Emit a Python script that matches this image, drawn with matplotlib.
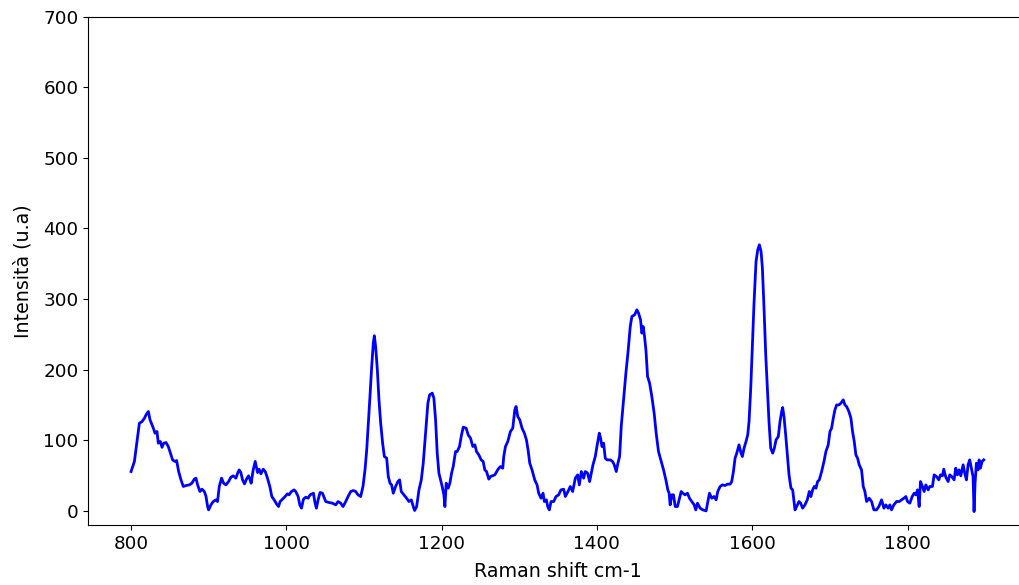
import matplotlib
matplotlib.use("Agg")
import matplotlib.pyplot as plt
import numpy as np

# Raman shift (cm-1) and intensity (u.a.)
shift = [
    800.0, 804.3, 807.3, 810.7, 814.1, 817.1, 819.3, 822.3, 824.4, 827.9,
    830.9, 833.4, 835.1, 837.7, 839.9, 842.0, 845.0, 848.0, 851.4, 853.6,
    856.6, 858.7, 861.3, 864.3, 867.3, 870.7, 875.0, 878.4, 881.4, 883.6,
    885.7, 888.7, 891.3, 894.3, 896.4, 898.6, 899.9, 902.9, 905.9, 909.3,
    911.4, 913.6, 916.6, 919.2, 922.2, 925.6, 928.6, 931.6, 935.0, 937.6,
    939.3, 941.4, 943.6, 946.1, 948.7, 951.3, 953.0, 954.7, 957.3, 959.9,
    962.9, 965.0, 967.2, 970.2, 972.8, 975.7, 978.7, 981.3, 984.3, 987.3,
    989.9, 992.0, 995.0, 998.4, 1001.4, 1003.6, 1006.6, 1010.0, 1012.1, 1015.2,
    1017.3, 1019.5, 1022.0, 1025.0, 1028.0, 1030.6, 1034.9, 1036.6, 1038.7, 1040.9,
    1043.4, 1046.5, 1050.7, 1055.0, 1059.3, 1063.6, 1066.6, 1070.0, 1073.0, 1076.5,
    1079.5, 1082.9, 1086.3, 1089.3, 1092.3, 1095.7, 1098.7, 1101.3, 1103.5, 1105.6,
    1107.7, 1109.9, 1112.0, 1113.3, 1115.0, 1117.2, 1119.3, 1121.5, 1124.0, 1126.2,
    1129.2, 1131.3, 1133.5, 1135.6, 1137.7, 1140.7, 1143.7, 1145.9, 1148.0, 1151.5,
    1154.9, 1157.9, 1160.9, 1163.5, 1165.2, 1167.8, 1170.8, 1173.8, 1176.3, 1179.3,
    1182.3, 1184.5, 1187.9, 1190.0, 1192.2, 1194.3, 1196.5, 1198.6, 1200.7, 1202.9,
    1204.2, 1205.9, 1208.5, 1210.6, 1212.8, 1214.9, 1217.9, 1220.0, 1223.0, 1225.2,
    1227.8, 1231.6, 1234.2, 1237.2, 1240.2, 1242.8, 1244.9, 1247.9, 1250.9, 1253.5,
    1255.6, 1257.8, 1260.8, 1262.9, 1265.1, 1268.5, 1272.7, 1275.7, 1278.7, 1280.0,
    1282.2, 1285.2, 1288.6, 1291.6, 1294.2, 1295.9, 1298.0, 1300.6, 1303.6, 1306.6,
    1309.2, 1311.3, 1313.5, 1316.4, 1319.9, 1322.9, 1325.0, 1328.0, 1330.6, 1332.3,
    1334.9, 1336.6, 1338.7, 1340.9, 1344.3, 1347.3, 1350.7, 1353.7, 1357.2, 1359.3,
    1362.7, 1365.7, 1368.7, 1372.2, 1375.2, 1377.3, 1379.9, 1382.9, 1385.0, 1388.0,
    1390.6, 1392.3, 1394.9, 1397.9, 1400.0, 1403.0, 1404.7, 1406.5, 1408.6, 1410.7,
    1412.9, 1417.2, 1420.2, 1422.3, 1424.9, 1427.0, 1429.2, 1431.3, 1434.3, 1437.3,
    1439.9, 1442.9, 1445.0, 1448.5, 1451.5, 1453.6, 1456.2, 1457.9, 1459.6, 1461.3,
    1463.1, 1465.2, 1467.8, 1470.7, 1473.7, 1476.3, 1479.3, 1482.3, 1485.8, 1488.8,
    1491.3, 1493.0, 1494.3, 1496.5, 1498.6, 1500.8, 1503.7, 1506.3, 1508.5, 1510.6,
    1513.6, 1516.6, 1519.2, 1522.2, 1525.2, 1527.3, 1529.5, 1532.9, 1536.3, 1540.6,
    1542.8, 1544.9, 1547.9, 1550.9, 1553.5, 1555.6, 1558.6, 1561.6, 1565.1, 1568.1,
    1571.5, 1573.6, 1575.8, 1577.9, 1580.1, 1583.0, 1585.6, 1587.3, 1589.5, 1592.0,
    1594.2, 1595.9, 1598.1, 1600.2, 1602.4, 1604.9, 1607.1, 1609.2, 1611.4, 1613.1,
    1615.2, 1617.4, 1619.5, 1621.6, 1623.8, 1626.4, 1628.5, 1630.7, 1633.6, 1635.8,
    1637.9, 1639.2, 1640.9, 1643.1, 1645.2, 1647.4, 1649.9, 1652.1, 1653.8, 1655.1,
    1657.2, 1660.2, 1662.4, 1664.9, 1667.9, 1670.9, 1673.5, 1675.6, 1677.8, 1679.9,
    1682.1, 1684.2, 1686.4, 1689.4, 1692.4, 1694.9, 1697.9, 1700.1, 1702.2, 1704.4,
    1706.5, 1708.7, 1711.6, 1714.2, 1717.2, 1719.4, 1721.5, 1724.5, 1727.1, 1729.2,
    1731.4, 1733.5, 1735.7, 1737.8, 1740.8, 1743.0, 1745.1, 1747.3, 1750.7, 1753.7,
    1756.7, 1760.1, 1763.1, 1766.6, 1769.6, 1772.1, 1775.1, 1777.3, 1779.4, 1782.4,
    1785.9, 1789.3, 1792.3, 1795.3, 1797.9, 1800.0, 1803.0, 1806.0, 1808.6, 1810.7,
    1812.9, 1815.0, 1816.7, 1819.3, 1821.4, 1823.6, 1826.6, 1828.7, 1832.1, 1834.3,
    1837.3, 1840.3, 1842.4, 1845.0, 1846.7, 1849.3, 1852.3, 1854.4, 1857.0, 1860.0,
    1862.1, 1864.3, 1866.4, 1868.6, 1871.6, 1873.7, 1875.9, 1878.0, 1880.1, 1882.3,
    1884.4, 1885.7, 1887.0, 1888.7, 1890.8, 1892.2, 1893.9, 1896.0, 1898.2,
]
intensity = [
    55.7, 69.9, 95.8, 124.0, 126.5, 131.0, 136.0, 140.7, 129.0, 119.5,
    110.0, 112.4, 95.8, 98.2, 90.0, 95.8, 96.8, 91.0, 79.3, 72.0,
    70.0, 71.3, 55.7, 43.9, 34.5, 35.9, 36.8, 39.2, 44.9, 46.3,
    36.8, 27.4, 30.7, 27.4, 21.2, 6.1, 1.4, 8.5, 13.2, 15.6,
    13.2, 34.5, 46.3, 39.2, 36.8, 41.5, 47.7, 49.6, 46.3, 54.3,
    58.0, 54.3, 43.9, 38.2, 44.9, 49.6, 44.9, 39.2, 58.0, 70.0,
    54.3, 59.0, 52.4, 59.0, 55.7, 46.3, 34.5, 20.3, 15.6, 9.9,
    6.1, 13.2, 16.5, 20.3, 24.1, 22.7, 27.4, 29.7, 27.4, 20.3,
    8.5, 3.8, 16.5, 19.4, 17.9, 22.7, 25.0, 13.2, 3.8, 15.6,
    26.0, 25.0, 13.2, 11.8, 10.9, 8.5, 13.2, 10.9, 6.1, 13.2,
    20.3, 27.4, 28.8, 27.4, 22.7, 20.3, 34.5, 58.0, 86.4, 124.0,
    162.0, 204.0, 237.5, 248.0, 232.8, 199.7, 157.2, 124.0, 95.8, 77.0,
    74.6, 48.6, 39.2, 36.8, 25.0, 34.5, 41.5, 43.9, 27.4, 22.7,
    17.9, 13.2, 15.6, 6.1, 0.5, 6.1, 29.7, 43.9, 67.5, 110.0,
    152.5, 164.3, 166.7, 159.6, 128.9, 81.7, 53.4, 43.9, 34.5, 22.7,
    6.1, 39.2, 32.1, 39.2, 53.4, 62.8, 84.0, 84.0, 91.1, 105.3,
    118.5, 117.0, 107.6, 102.9, 91.1, 93.5, 84.0, 79.3, 72.2, 69.9,
    58.0, 55.7, 44.9, 48.6, 49.6, 51.0, 59.0, 62.8, 60.4, 77.0,
    91.1, 98.2, 112.4, 117.0, 143.0, 147.8, 133.6, 128.9, 117.0, 110.0,
    100.6, 86.4, 67.5, 58.0, 43.9, 36.8, 25.0, 17.9, 25.0, 13.2,
    15.6, 6.1, 1.4, 13.2, 13.2, 20.3, 22.7, 29.7, 30.7, 20.3,
    27.4, 34.5, 27.4, 46.3, 51.0, 36.8, 55.7, 46.3, 55.7, 53.4,
    41.5, 51.0, 65.2, 77.0, 91.1, 110.0, 102.9, 91.1, 95.8, 74.6,
    72.2, 72.2, 69.9, 65.2, 55.7, 67.5, 77.0, 119.5, 157.2, 195.0,
    223.3, 261.0, 275.3, 277.6, 284.7, 280.0, 270.5, 251.7, 261.0, 247.0,
    228.0, 190.3, 181.0, 162.0, 138.3, 110.0, 84.0, 72.2, 58.0, 43.9,
    29.7, 25.0, 8.5, 22.7, 22.7, 6.1, 6.1, 17.9, 27.4, 25.0,
    22.7, 25.0, 17.9, 13.2, 8.5, 1.4, 10.9, 3.8, 1.4, 0.0,
    13.2, 25.0, 17.9, 20.3, 15.6, 27.4, 34.5, 36.8, 35.9, 37.8,
    37.8, 41.5, 55.7, 74.6, 81.7, 93.5, 81.7, 77.0, 88.8, 98.2,
    107.6, 126.5, 173.8, 235.0, 296.5, 353.0, 369.7, 376.8, 367.3, 343.7,
    287.0, 221.0, 173.8, 126.5, 88.8, 81.7, 88.8, 100.6, 105.3, 126.5,
    140.7, 146.4, 133.6, 107.6, 79.3, 51.0, 32.1, 29.7, 13.2, 1.4,
    6.1, 13.2, 10.9, 3.8, 8.5, 15.6, 27.4, 20.3, 29.7, 34.5,
    32.1, 41.5, 43.9, 55.7, 69.9, 84.0, 93.5, 112.4, 117.0, 131.3,
    143.0, 150.0, 150.0, 152.5, 157.2, 150.0, 147.8, 140.7, 131.3, 112.4,
    98.2, 79.3, 74.6, 65.2, 58.0, 34.5, 27.4, 13.2, 17.9, 13.2,
    1.4, 1.4, 6.1, 15.6, 3.8, 8.5, 3.8, 8.5, 1.4, 8.5,
    13.2, 13.2, 15.6, 17.9, 20.3, 13.2, 10.9, 20.3, 25.0, 22.7,
    29.7, 6.1, 41.5, 34.5, 27.4, 36.8, 29.7, 34.5, 34.5, 51.0,
    48.6, 43.9, 51.0, 49.6, 59.0, 47.7, 41.5, 51.0, 48.6, 43.9,
    60.4, 51.0, 58.0, 49.6, 65.2, 53.4, 43.9, 65.2, 72.2, 60.4,
    48.6, -1.0, 39.2, 67.5, 58.0, 72.2, 60.4, 69.9, 72.2,
]

fig = plt.figure(figsize=(10.19, 5.85), dpi=100)
# axes run slightly past the right edge of the canvas, as in the reference
ax = fig.add_axes([0.0867, 0.1026, 0.922, 0.869])

ax.plot(shift, intensity, color="blue", linewidth=2.0)

ax.set_xlim(745, 1955)
ax.set_ylim(-20, 700)
ax.set_xticks([800, 1000, 1200, 1400, 1600, 1800])
ax.set_yticks(np.arange(0, 701, 100))
ax.tick_params(labelsize=13.2)

ax.set_xlabel("Raman shift cm-1", fontsize=13.7, labelpad=7)
ax.set_ylabel("Intensità (u.a)", fontsize=13.7, labelpad=8)

fig.savefig("out.png", dpi=100)
plt.close(fig)
